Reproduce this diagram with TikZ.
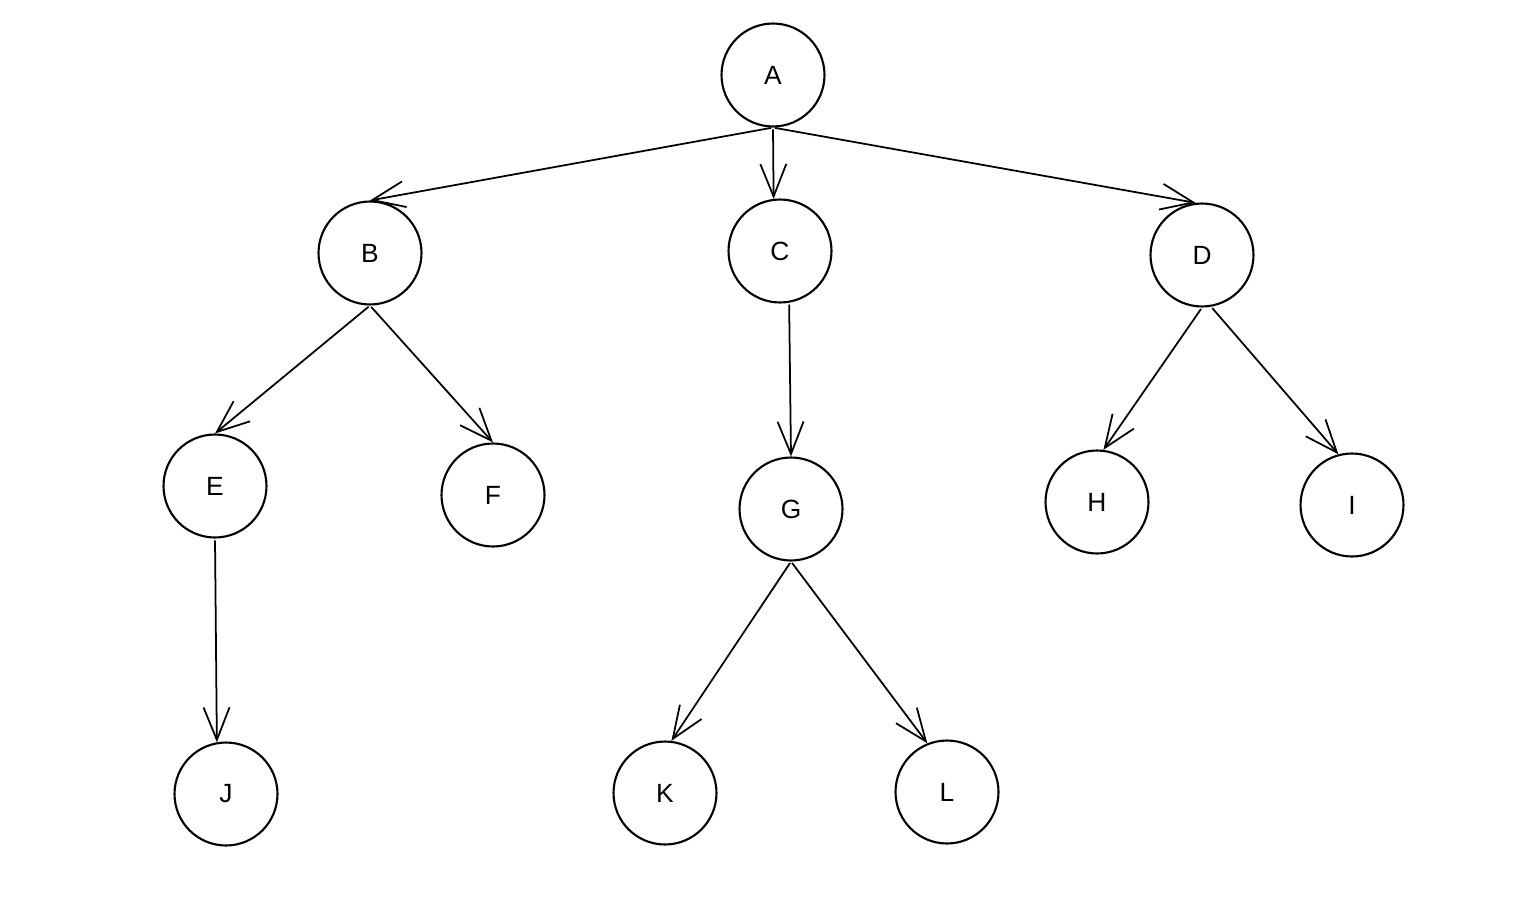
\documentclass[tikz,border=0pt]{standalone}
\usepackage{fontspec}
\setmainfont{Liberation Sans}
\usetikzlibrary{arrows.meta}

\begin{document}
\begin{tikzpicture}[x=0.02cm, y=-0.02cm]
\tikzstyle{vertex} = [circle, draw=black, line width=1.2pt, minimum size=2.06cm, inner sep=0pt, font=\fontsize{15}{17}\selectfont];
\tikzstyle{edge} = [draw=black, line width=1pt, -{Straight Barb[length=6.5mm, width=5.2mm, line width=1pt]}, shorten <=1pt];

\useasboundingbox (0,0) rectangle (1514,919);

% nodes
\node (a) [vertex] at (773,75) {A};
\node (b) [vertex] at (370,253) {B};
\node (c) [vertex] at (780,251) {C};
\node (d) [vertex] at (1202,255) {D};
\node (e) [vertex] at (215,486) {E};
\node (f) [vertex] at (493,495) {F};
\node (g) [vertex] at (791,509) {G};
\node (h) [vertex] at (1097,502) {H};
\node (i) [vertex] at (1352,505) {I};
\node (j) [vertex] at (226,794) {J};
\node (k) [vertex] at (665,793) {K};
\node (l) [vertex] at (947,792) {L};

% edges
\draw [edge] (a.south) -- (b.north);
\draw [edge] (a.south) -- (c.97);
\draw [edge] (a.south) -- (d.97);
\draw [edge] (b.south) -- (e.north);
\draw [edge] (b.south) -- (f.north);
\draw [edge] (c.-80) -- (g.north);
\draw [edge] (d.south) -- (h.83);
\draw [edge] (d.-80) -- (i.105);
\draw [edge] (e.south) -- (j.100);
\draw [edge] (g.south) -- (k.83);
\draw [edge] (g.south) -- (l.112);
\end{tikzpicture}
\end{document}
